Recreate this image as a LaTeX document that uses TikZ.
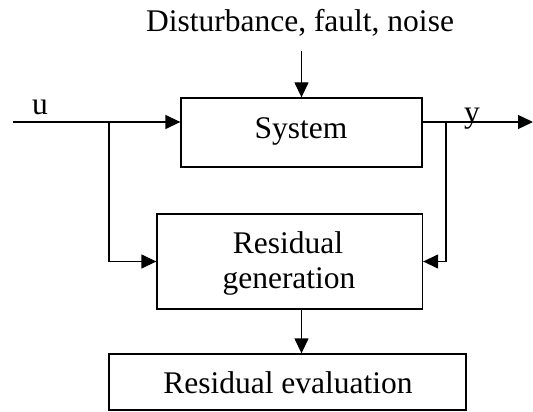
\documentclass[tikz,border=0pt]{standalone}
\usepackage{fontspec}
\setmainfont{Liberation Serif}
\usetikzlibrary{arrows.meta}
\begin{document}
\begin{tikzpicture}[x=1pt,y=-1pt,
  line width=1.3pt,
  blk/.style={draw,line width=1.3pt,inner sep=0pt,outer sep=0.65pt},
  lbl/.style={inner sep=0pt,anchor=base,font=\fontsize{31.5}{36}\selectfont},
  arr/.style={-{Triangle[length=15pt,width=14pt]}}]
\useasboundingbox (0,0) rectangle (533,412);

% blocks
\node[blk,minimum width=241pt,minimum height=69pt] (sys) at (301.5,132.5) {};
\node[blk,minimum width=265.5pt,minimum height=95pt] (rg) at (289.75,261.5) {};
\node[blk,minimum width=357pt,minimum height=56pt] (re) at (287.5,382) {};

% texts
\node[lbl] (dist) at (300,32) {Disturbance, fault, noise};
\node[lbl] (systxt) at (301,138) {System};
\node[lbl] (rgtxt1) at (288,253) {Residual};
\node[lbl] (rgtxt2) at (289,288) {generation};
\node[lbl] (retxt) at (288,393) {Residual evaluation};
\node[lbl] (ulbl) at (40,114) {u};
\node[lbl] (ylbl) at (472,122) {y};

% signal points
\coordinate (uin) at (13,122);
\coordinate (ub) at (109,122);
\coordinate (yb) at (446,122);
\coordinate (yend) at (533,122);
\coordinate (dtop) at (301.5,51);

% connectors
\draw[arr] (uin) -- (uin -| sys.west);
\draw[arr] (ub) |- (rg.west);
\draw[arr] (uin -| sys.east) -- (yend);
\draw[arr] (yb) |- (rg.east);
\draw[arr] (dtop) -- (sys.north);
\draw[arr] (sys.center |- rg.south) -- (sys.center |- re.north);
\end{tikzpicture}
\end{document}
